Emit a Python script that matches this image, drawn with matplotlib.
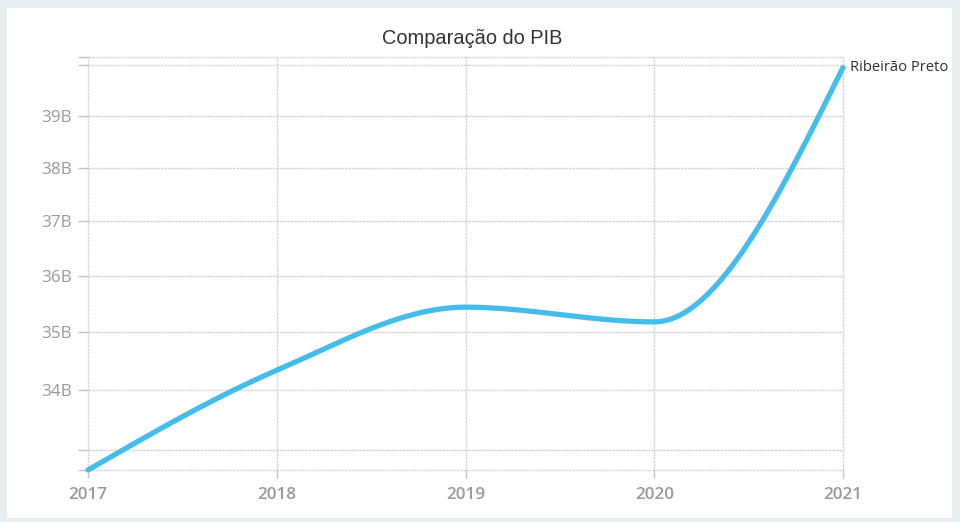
import numpy as np
import matplotlib
matplotlib.use("Agg")
import matplotlib.pyplot as plt
from matplotlib.patches import Rectangle
from matplotlib.ticker import FixedLocator, FixedFormatter, NullLocator

# ---- data ----
years = [2017, 2018, 2019, 2020, 2021]
pib = [32.67e9, 34.34e9, 35.44e9, 35.18e9, 39.95e9]
series_name = "Ribeirão Preto"
title = "Comparação do PIB"
ytick_values = [33e9, 34e9, 35e9, 36e9, 37e9, 38e9, 39e9, 40e9]
ytick_labels = ["", "34B", "35B", "36B", "37B", "38B", "39B", ""]
xtick_labels = ["2017", "2018", "2019", "2020", "2021"]


def monotone_x(xs, ys, n=60):
    """d3 curveMonotoneX rendering of the points (in display-space y)."""
    xs = np.asarray(xs, float)
    ys = np.asarray(ys, float)
    m = len(xs)
    h = np.diff(xs)
    s = np.diff(ys) / h
    t = np.zeros(m)
    for i in range(1, m - 1):
        s0, s1 = s[i - 1], s[i]
        p = (s0 * h[i] + s1 * h[i - 1]) / (h[i - 1] + h[i])
        t[i] = (np.sign(s0) + np.sign(s1)) * min(abs(s0), abs(s1), 0.5 * abs(p))
    t[0] = (3 * s[0] - t[1]) / 2
    t[-1] = (3 * s[-1] - t[-2]) / 2
    out_x, out_y = [], []
    for i in range(m - 1):
        x0, x1 = xs[i], xs[i + 1]
        y0, y1 = ys[i], ys[i + 1]
        dx = (x1 - x0) / 3
        P = np.array([[x0, y0], [x0 + dx, y0 + dx * t[i]],
                      [x1 - dx, y1 - dx * t[i + 1]], [x1, y1]])
        u = np.linspace(0, 1, n)[:, None]
        B = ((1 - u) ** 3) * P[0] + 3 * ((1 - u) ** 2) * u * P[1] + \
            3 * (1 - u) * u ** 2 * P[2] + u ** 3 * P[3]
        out_x.extend(B[:, 0])
        out_y.extend(B[:, 1])
    return np.array(out_x), np.array(out_y)


W, H = 960, 522
fig = plt.figure(figsize=(W / 100, H / 100), dpi=100, facecolor="#e9eef3")
fig.patches.append(Rectangle((7 / W, 4 / H), 945 / W, 510 / H,
                             transform=fig.transFigure, facecolor="white",
                             edgecolor="none", zorder=-10))

ax = fig.add_axes([88 / W, 1 - 470 / H, (843 - 88) / W, (470 - 57) / H])
ax.set_zorder(5)
ax.patch.set_alpha(0)
ax.set_yscale("log")
ymin, ymax = 32.67e9, 40.16e9
ax.set_ylim(ymin, ymax)
ax.set_xlim(years[0], years[-1])

for s in ax.spines.values():
    s.set_visible(False)

grid_kw = dict(color="#d6d6d6", linewidth=1.0, linestyle=(0, (2, 0.6)),
               zorder=1, clip_on=False)
for yv in ytick_values + [ymin, ymax]:
    ax.axhline(yv, **grid_kw)
for xv in years:
    ax.axvline(xv, **grid_kw)

ax.yaxis.set_major_locator(FixedLocator(ytick_values + [ymin, ymax]))
ax.yaxis.set_major_formatter(FixedFormatter(ytick_labels + ["", ""]))
ax.yaxis.set_minor_locator(NullLocator())
ax.set_xticks(years)
ax.set_xticklabels(xtick_labels)

tick_font = ["Open Sans", "DejaVu Sans"]
ax.tick_params(axis="y", length=7.5, width=1.0, color="#c4c4c4", pad=4,
               labelsize=12.3, labelcolor="#9a9a9a")
ax.tick_params(axis="x", length=6, width=1.0, color="#c4c4c4", pad=6,
               labelsize=12.3, labelcolor="#9a9a9a")
for lab in ax.get_yticklabels() + ax.get_xticklabels():
    lab.set_fontfamily(tick_font)
for lab in ax.get_xticklabels():
    lab.set_fontweight("semibold")

# curve in display space (log scale) like the original renderer
pts = ax.transData.transform(np.column_stack([years, pib]))
cx, cy = monotone_x(pts[:, 0], pts[:, 1])
curve = ax.transData.inverted().transform(np.column_stack([cx, cy]))
ax.plot(curve[:, 0], curve[:, 1], color="#45bdec", linewidth=3.8,
        solid_capstyle="round", zorder=3, clip_on=False)

ax.annotate(series_name, xy=(years[-1], pib[-1]), xytext=(5, 0),
            textcoords="offset points", ha="left", va="center",
            fontsize=10.6, color="#2f2f2f", family=["Open Sans", "DejaVu Sans"])

fig.text(472 / W, 1 - 39 / H, title, ha="center", va="center",
         fontsize=14.4, color="#333333", family=["Liberation Sans", "DejaVu Sans"])

fig.savefig("out.png", dpi=100, facecolor=fig.get_facecolor())
